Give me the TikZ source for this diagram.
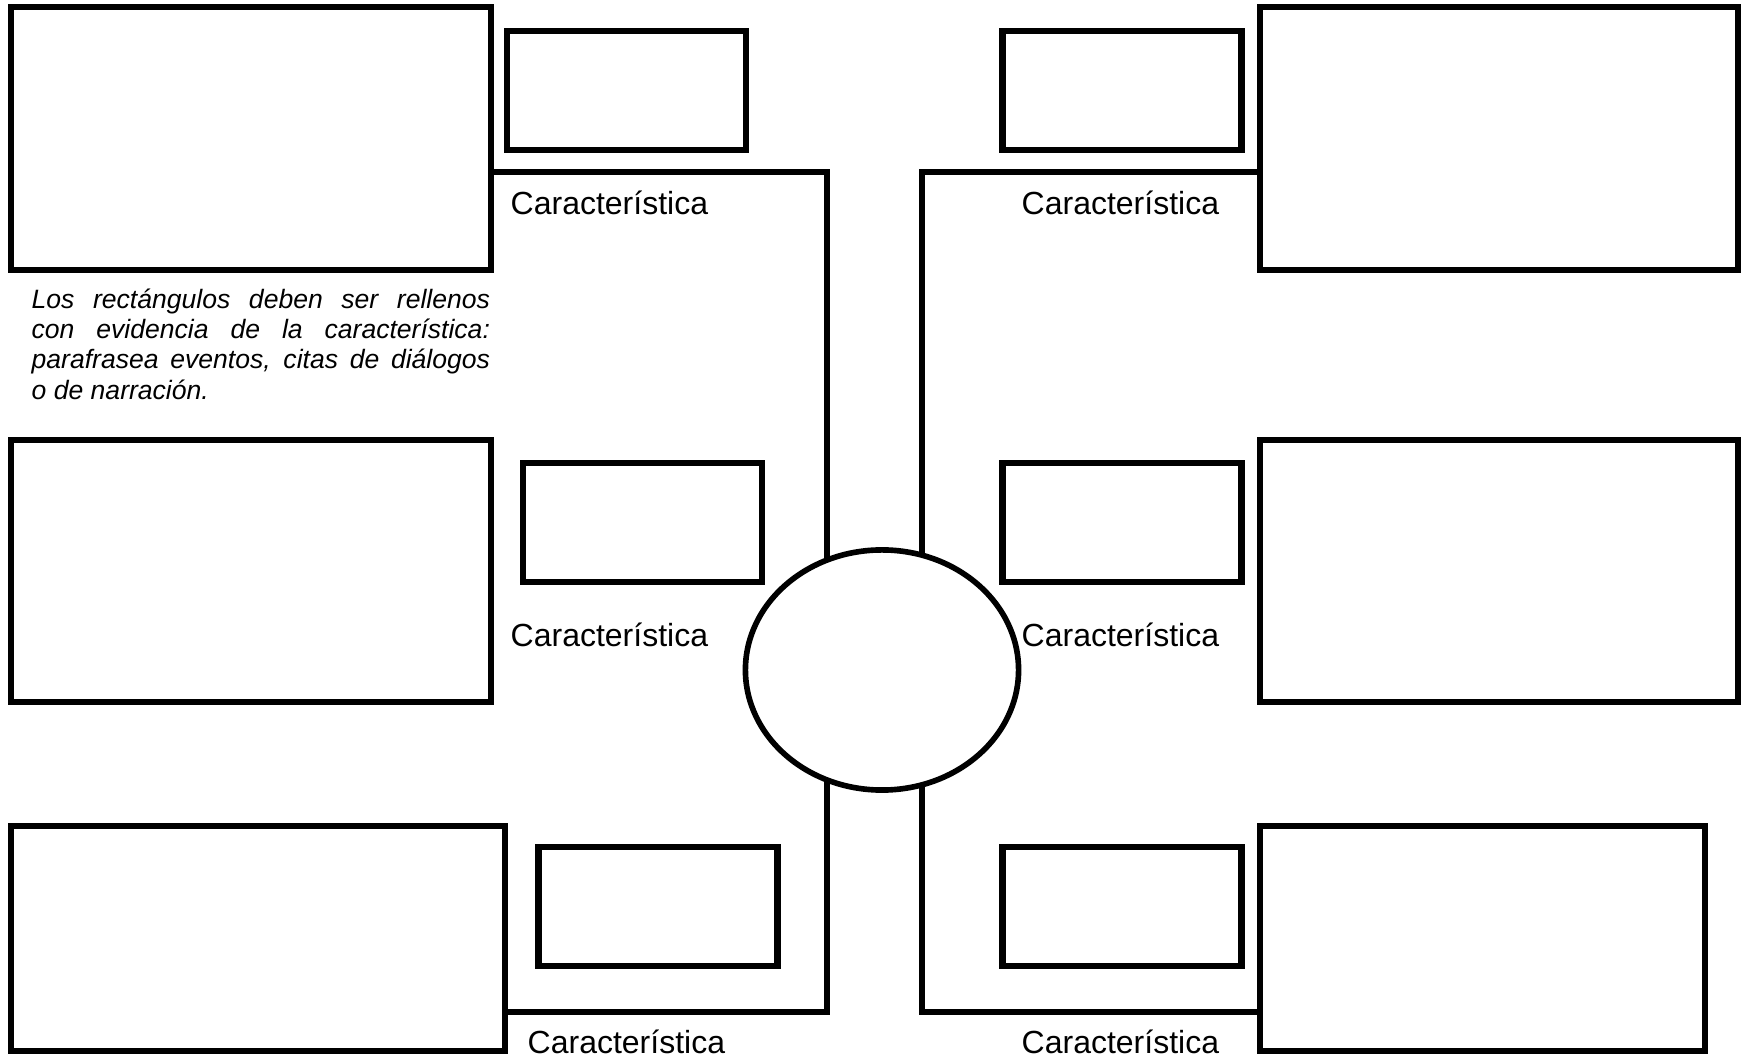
\documentclass[tikz,border=0pt]{standalone}
\usepackage{fontspec}
\setmainfont{Liberation Sans}
\usetikzlibrary{shapes.geometric}
\pgfdeclarelayer{fondo}
\pgfsetlayers{fondo,main}

\begin{document}
\begin{tikzpicture}[x=0.01cm,y=-0.01cm,
		caja/.style={draw,line width=1.85pt,inner sep=0pt,fill=white},
		grande/.style={caja,minimum width=4.8cm,minimum height=2.63cm},
		chica/.style={caja,minimum width=2.39cm,minimum height=1.19cm},
		rasgo/.style={anchor=base west,inner sep=0pt,font=\fontsize{9.1}{10.9}\selectfont},
		enlace/.style={line width=1.85pt}]
		\useasboundingbox (0,0) rectangle (1741,1058);
		% centro
		\node[ellipse,draw,line width=1.6pt,fill=white,inner sep=0pt,minimum width=2.73cm,minimum height=2.4cm] (centro) at (882,670) {};
		% arriba
		\node[grande] (tlgrande) at (251,138.5) {};
		\node[chica] (tlchica) at (626.5,90.5) {};
		\node[chica] (trchica) at (1122,90.5) {};
		\node[grande,minimum width=4.78cm] (trgrande) at (1499,138.5) {};
		% medio
		\node[grande,minimum height=2.62cm] (mlgrande) at (251,571) {};
		\node[chica] (mlchica) at (642.5,522.5) {};
		\node[chica] (mrchica) at (1122,522.5) {};
		\node[grande,minimum width=4.78cm,minimum height=2.62cm] (mrgrande) at (1499,571) {};
		% abajo
		\node[grande,minimum width=4.94cm,minimum height=2.25cm] (blgrande) at (258,938.5) {};
		\node[chica] (blchica) at (658,906.5) {};
		\node[chica] (brchica) at (1122,906.5) {};
		\node[grande,minimum width=4.45cm,minimum height=2.25cm] (brgrande) at (1482.5,938.5) {};
		% enlaces
		\coordinate (tlcodo) at (827,172);
		\coordinate (trcodo) at (922,172);
		\coordinate (blcodo) at (827,1012);
		\coordinate (brcodo) at (922,1012);
		\begin{pgfonlayer}{fondo}
		\draw[enlace] (tlgrande.east |- tlcodo) -- (tlcodo) -- (tlcodo |- centro.center);
		\draw[enlace] (trgrande.west |- trcodo) -- (trcodo) -- (trcodo |- centro.center);
		\draw[enlace] (blgrande.east |- blcodo) -- (blcodo) -- (blcodo |- centro.center);
		\draw[enlace] (brgrande.west |- brcodo) -- (brcodo) -- (brcodo |- centro.center);
		\end{pgfonlayer}
		% textos
		\node[rasgo] (tltexto) at (510,215) {Característica};
		\node[rasgo] (trtexto) at (1021,215) {Característica};
		\node[rasgo] (mltexto) at (510,647) {Característica};
		\node[rasgo] (mrtexto) at (1021,647) {Característica};
		\node[rasgo] (bltexto) at (527,1054) {Característica};
		\node[rasgo] (brtexto) at (1021,1054) {Característica};
		\node[anchor=north west,inner sep=0pt,text width=4.58cm,align=justify,font=\itshape\fontsize{7.55}{8.62}\selectfont] (nota) at (31,288)
		{\tolerance=10000 Los rectángulos deben ser rellenos\linebreak con evidencia de la característica:\linebreak parafrasea eventos, citas de diálogos\linebreak o de narración.};
		\end{tikzpicture}
\end{document}
